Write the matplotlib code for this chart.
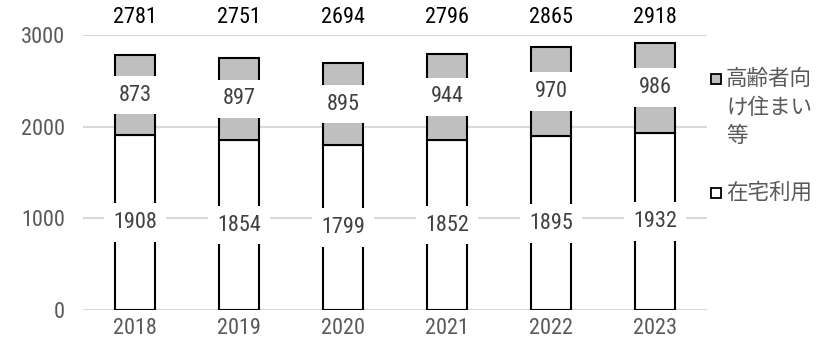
import matplotlib.pyplot as plt
import numpy as np
from matplotlib.patches import Rectangle

# データ
years = ['2018', '2019', '2020', '2021', '2022', '2023']
zaitaku = [1908, 1854, 1799, 1852, 1895, 1932]      # 在宅利用
koreisha = [873, 897, 895, 944, 970, 986]          # 高齢者向け住まい等
totals = [2781, 2751, 2694, 2796, 2865, 2918]

plt.rcParams['font.family'] = ['Roboto Condensed', 'Noto Sans CJK JP', 'DejaVu Sans']
fs = 16

fig = plt.figure(figsize=(8.18, 3.42), dpi=100)
ax = fig.add_axes([0.1015, 0.0936, 0.7628, 0.8041])

x = np.arange(len(years))
w = 0.385
ax.bar(x, zaitaku, w, color='white', edgecolor='black', linewidth=1.5, zorder=2)
ax.bar(x, koreisha, w, bottom=zaitaku, color='#bfbfbf', edgecolor='black', linewidth=1.5, zorder=2)

box = dict(boxstyle='square,pad=0.4', facecolor='white', edgecolor='none')
for i in range(len(years)):
    ax.text(x[i], zaitaku[i] / 2, str(zaitaku[i]), ha='center', va='center',
            fontsize=fs, color='#404040', bbox=box, zorder=3)
    ax.text(x[i], zaitaku[i] + koreisha[i] / 2, str(koreisha[i]), ha='center', va='center',
            fontsize=fs, color='#404040', bbox=box, zorder=3)
    ax.text(x[i], 3190, str(totals[i]), ha='center', va='center',
            fontsize=fs, color='black', clip_on=False, zorder=3)

ax.set_xlim(-0.5, len(years) - 0.5)
ax.set_ylim(0, 3000)
ax.set_yticks([0, 1000, 2000, 3000])
ax.set_xticks(x)
ax.set_xticklabels(years)
ax.tick_params(length=0, labelsize=fs, labelcolor='#595959')
ax.tick_params(axis='y', pad=13)
ax.tick_params(axis='x', pad=6)
ax.yaxis.grid(True, color='#d9d9d9', linewidth=1.5, zorder=0)
ax.set_axisbelow(True)
for s in ax.spines.values():
    s.set_visible(False)

# 凡例（手書き）
sq_w, sq_h = 10 / 818, 10 / 342
tx = 0.8875
legend_items = [('#bfbfbf', ['高齢者向', 'け住まい', '等'], 1 - 79 / 342),
                ('white', ['在宅利用'], 1 - 193 / 342)]
for color, lines, yc in legend_items:
    fig.add_artist(Rectangle((0.869, yc - sq_h / 2), sq_w, sq_h, transform=fig.transFigure,
                             facecolor=color, edgecolor='black', linewidth=1.3))
    for k, line in enumerate(lines):
        fig.text(tx, yc - k * 28.5 / 342, line, ha='left', va='center',
                 fontsize=15.5, color='#595959', family=['Noto Sans CJK JP'])

fig.savefig('out.png', dpi=100)
